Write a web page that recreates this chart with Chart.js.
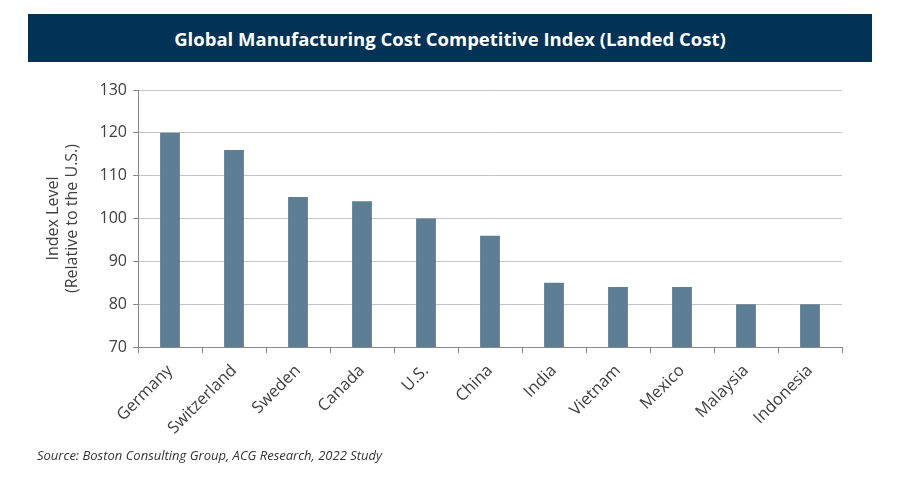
<!DOCTYPE html>
<html>
<head>
<meta charset="utf-8">
<script src="https://cdn.jsdelivr.net/npm/chart.js@4"></script>
<style>
  html, body { margin: 0; padding: 0; background: #fff; }
  #wrap { position: relative; width: 900px; height: 480px; overflow: hidden; }
  #title {
    position: absolute; left: 28px; top: 14px; width: 844px; height: 48px;
    background: #003356; color: #fff; font: bold 18.5px 'Open Sans', sans-serif;
    display: flex; align-items: center; justify-content: center;
  }
  #source {
    position: absolute; left: 37px; top: 446px;
    font: italic 13px 'Open Sans', sans-serif; color: #333;
  }
  canvas { position: absolute; left: 0; top: 0; }
</style>
</head>
<body>
<div id="wrap">
  <div id="title">Global Manufacturing Cost Competitive Index (Landed Cost)</div>
  <canvas id="chart" width="900" height="480"></canvas>
  <div id="source">Source: Boston Consulting Group, ACG Research, 2022 Study</div>
</div>
<script>
const countries = ['Germany', 'Switzerland', 'Sweden', 'Canada', 'U.S.', 'China',
                   'India', 'Vietnam', 'Mexico', 'Malaysia', 'Indonesia'];
const indexLevel = [120, 116, 105, 104, 100, 96, 85, 84, 84, 80, 80];
const yMin = 70;
const yMax = 130;
const yStep = 10;

const font = "'Open Sans', sans-serif";
const textColor = '#404040';

new Chart(document.getElementById('chart'), {
  type: 'bar',
  data: {
    labels: countries,
    datasets: [{
      data: indexLevel,
      backgroundColor: '#5e7f93',
      borderWidth: 0,
      barPercentage: 0.31,
      categoryPercentage: 1,
    }],
  },
  options: {
    responsive: false,
    animation: false,
    layout: { padding: { top: 90, right: 58, left: 44, bottom: 0 } },
    scales: {
      x: {
        afterFit: s => { s.height = 133; },
        grid: {
          drawOnChartArea: false,
          drawTicks: true,
          tickLength: 6,
          tickColor: '#888',
          offset: true,
        },
        border: { color: '#888', width: 1 },
        ticks: {
          color: textColor,
          font: { family: font, size: 16.5 },
          maxRotation: 45,
          minRotation: 45,
          padding: 8,
        },
      },
      y: {
        min: yMin,
        max: yMax,
        afterFit: s => { s.width = 94; },
        grid: {
          color: '#c4c4c4',
          tickColor: '#888',
          tickLength: 5,
        },
        border: { color: '#888', width: 1 },
        ticks: {
          stepSize: yStep,
          color: textColor,
          font: { family: font, size: 16 },
          padding: 6,
        },
        title: {
          display: true,
          text: ['Index Level', '(Relative to the U.S.)'],
          color: textColor,
          font: { family: font, size: 16 },
          padding: { top: 0, bottom: 0 },
        },
      },
    },
    plugins: {
      legend: { display: false },
      tooltip: { enabled: false },
    },
  },
});
</script>
</body>
</html>
